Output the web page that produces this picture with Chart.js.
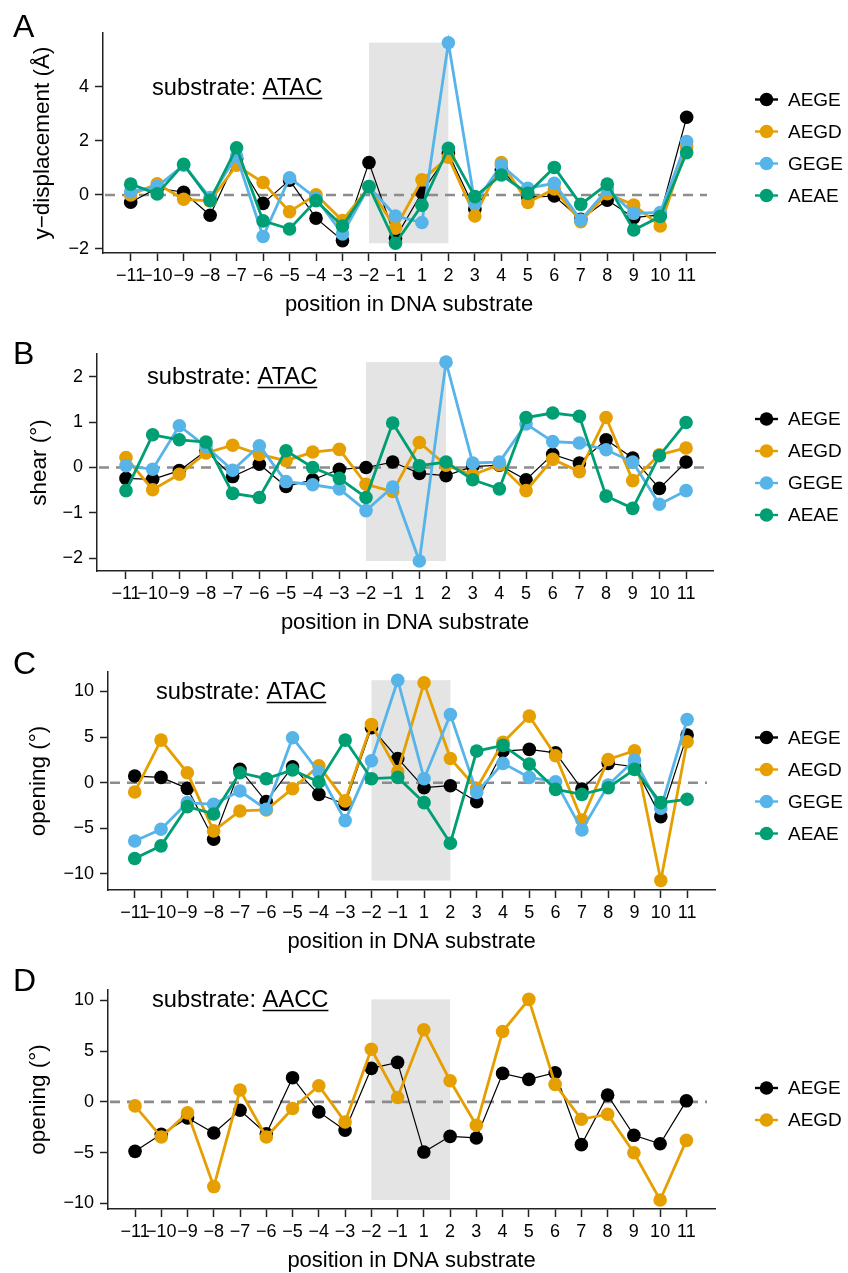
<!DOCTYPE html>
<html><head><meta charset="utf-8">
<script src="https://cdn.jsdelivr.net/npm/chart.js@4.4.1/dist/chart.umd.min.js"></script>
<style>
html,body{margin:0;padding:0;background:#fff;}
#wrap{position:relative;width:848px;height:1273px;overflow:hidden;background:#fff;}
canvas{position:absolute;left:0;}
</style></head><body>
<div id="wrap">
<canvas id="cA" width="848" height="320" style="top:0px"></canvas>
<canvas id="cB" width="848" height="320" style="top:320px"></canvas>
<canvas id="cC" width="848" height="320" style="top:640px"></canvas>
<canvas id="cD" width="848" height="314" style="top:960px"></canvas>
</div>
<script>
// ---------- DATA ----------
const positionLabels = ['\u221211','\u221210','\u22129','\u22128','\u22127','\u22126','\u22125','\u22124','\u22123','\u22122','\u22121','1','2','3','4','5','6','7','8','9','10','11'];
const seriesNames = ['AEGE','AEGD','GEGE','AEAE'];
const shadeFromLabel = '\u22122';
const shadeToLabel = '2';

// Panel A: y-displacement, substrate ATAC
const dispAEGE = [-0.27,0.25,0.1,-0.75,1.35,-0.31,0.55,-0.86,-1.69,1.2,-1.6,0.09,1.54,-0.53,0.93,-0.08,-0.04,-0.9,-0.19,-0.84,-0.74,2.88];
const dispAEGD = [0.0,0.41,-0.16,-0.22,1.1,0.46,-0.62,0.01,-0.95,0.3,-1.23,0.56,1.4,-0.78,1.2,-0.28,0.22,-0.99,0.05,-0.37,-1.15,1.79];
const dispGEGE = [0.12,0.31,1.1,-0.1,1.44,-1.54,0.64,-0.12,-1.44,0.31,-0.78,-1.02,5.64,-0.31,1.11,0.25,0.43,-0.93,0.21,-0.68,-0.65,1.98];
const dispAEAE = [0.4,0.04,1.14,-0.2,1.75,-0.96,-1.26,-0.21,-1.15,0.31,-1.79,-0.38,1.73,-0.06,0.74,0.06,1.02,-0.35,0.4,-1.3,-0.8,1.57];
const dispTicks = [-2,0,2,4];

// Panel B: shear, substrate ATAC
const shearAEGE = [-0.24,-0.26,-0.07,0.37,-0.2,0.07,-0.42,-0.27,-0.04,0.0,0.12,-0.13,-0.18,0.02,0.05,-0.27,0.29,0.1,0.61,0.21,-0.46,0.12];
const shearAEGD = [0.22,-0.49,-0.15,0.32,0.49,0.29,0.15,0.34,0.4,-0.37,-0.53,0.55,0.05,-0.16,0.06,-0.51,0.18,-0.09,1.1,-0.29,0.28,0.43];
const shearGEGE = [0.04,-0.04,0.92,0.46,-0.06,0.48,-0.31,-0.38,-0.47,-0.95,-0.43,-2.06,2.32,0.1,0.12,0.96,0.57,0.54,0.39,0.12,-0.81,-0.51];
const shearAEAE = [-0.51,0.72,0.61,0.56,-0.57,-0.66,0.37,0.0,-0.24,-0.66,0.98,0.04,0.12,-0.27,-0.47,1.1,1.2,1.13,-0.63,-0.9,0.26,0.99];
const shearTicks = [-2,-1,0,1,2];

// Panel C: opening, substrate ATAC
const openAtacAEGE = [0.73,0.58,-0.62,-6.2,1.46,-2.08,1.75,-1.28,-2.37,6.02,2.66,-0.55,-0.33,-2.08,3.47,3.65,3.28,-0.69,2.12,1.75,-3.72,5.22];
const openAtacAEGD = [-1.02,4.67,1.09,-5.29,-3.1,-2.99,-0.66,1.86,-2.0,6.39,1.2,10.95,2.66,-0.62,4.42,7.3,2.96,-4.09,2.55,3.5,-10.73,4.49];
const openAtacGEGE = [-6.39,-5.11,-2.19,-2.37,-0.91,-2.92,4.93,1.17,-4.16,2.41,11.24,0.44,7.48,-1.06,2.12,0.58,0.11,-5.18,-0.26,2.48,-2.81,6.93];
const openAtacAEAE = [-8.32,-6.93,-2.63,-3.43,1.09,0.44,1.39,0.07,4.67,0.44,0.58,-2.19,-6.64,3.47,4.09,2.04,-0.73,-1.28,-0.55,1.46,-2.19,-1.82];
const openTicks = [-10,-5,0,5,10];

// Panel D: opening, substrate AACC
const openAaccAEGE = [-4.88,-3.2,-1.58,-3.07,-0.83,-3.14,2.38,-0.99,-2.8,3.3,3.89,-4.95,-3.4,-3.56,2.8,2.21,2.87,-4.22,0.66,-3.3,-4.13,0.1];
const openAaccAEGD = [-0.4,-3.47,-1.09,-8.35,1.16,-3.47,-0.66,1.58,-1.98,5.18,0.43,7.1,2.08,-2.31,6.93,10.1,1.72,-1.72,-1.22,-5.02,-9.67,-3.8];

// ---------- STYLE ----------
const FONT = "'Liberation Sans', Arial, Helvetica, sans-serif";
const seriesColors = {AEGE:'#000000', AEGD:'#E69F00', GEGE:'#56B4E9', AEAE:'#009E73'};
const seriesWidths = {AEGE:1.2, AEGD:2.8, GEGE:2.8, AEAE:2.8};
const seriesOrder = {AEGE:4, AEGD:3, GEGE:2, AEAE:1};

function fmtNum(v){ return v < 0 ? '\u2212' + Math.abs(v) : String(v); }

const decor = {
  id: 'decor',
  beforeDatasetsDraw(chart, args, o) {
    const {ctx, chartArea: a, scales: {x, y}} = chart;
    const all = chart.data.datasets.flatMap(d => d.data.map(p => p.y));
    const yMax = Math.max(...all), yMin = Math.min(...all);
    const x1 = x.getPixelForValue(positionLabels.indexOf(shadeFromLabel));
    const x2 = x.getPixelForValue(positionLabels.indexOf(shadeToLabel));
    const y1 = y.getPixelForValue(yMax), y2 = y.getPixelForValue(yMin);
    ctx.save();
    ctx.fillStyle = '#e4e4e4';
    ctx.fillRect(x1, y1, x2 - x1, y2 - y1);
    const y0 = y.getPixelForValue(0);
    ctx.strokeStyle = '#8c8c8c';
    ctx.lineWidth = 2.6;
    ctx.setLineDash([10, 7]);
    ctx.beginPath();
    ctx.moveTo(a.left + 2, y0);
    ctx.lineTo(a.right - 8, y0);
    ctx.stroke();
    ctx.restore();
  },
  afterDraw(chart, args, o) {
    const {ctx, chartArea: a} = chart;
    ctx.save();
    // legend
    const ds = chart.data.datasets;
    const yc = (a.top + a.bottom) / 2 + 4.5;
    const gap = 32;
    ds.forEach((d, i) => {
      const yy = yc + (i - (ds.length - 1) / 2) * gap;
      ctx.strokeStyle = d.borderColor;
      ctx.lineWidth = 2.4;
      ctx.setLineDash([]);
      ctx.beginPath(); ctx.moveTo(755, yy); ctx.lineTo(778, yy); ctx.stroke();
      ctx.fillStyle = d.borderColor;
      ctx.beginPath(); ctx.arc(766.5, yy, 6.8, 0, Math.PI * 2); ctx.fill();
      ctx.fillStyle = '#000';
      ctx.font = '19px ' + FONT;
      ctx.textAlign = 'left';
      ctx.textBaseline = 'middle';
      ctx.fillText(d.label, 788, yy + 1);
    });
    // substrate label
    ctx.font = '23.7px ' + FONT;
    ctx.textAlign = 'left';
    ctx.textBaseline = 'alphabetic';
    ctx.fillStyle = '#000';
    const pre = 'substrate: ';
    ctx.fillText(pre, o.subX, o.subY);
    const w0 = ctx.measureText(pre).width;
    ctx.fillText(o.substrate, o.subX + w0, o.subY);
    const w1 = ctx.measureText(o.substrate).width;
    ctx.strokeStyle = '#000';
    ctx.lineWidth = 1.6;
    ctx.beginPath();
    ctx.moveTo(o.subX + w0, o.subY + 3.5);
    ctx.lineTo(o.subX + w0 + w1, o.subY + 3.5);
    ctx.stroke();
    // panel letter
    ctx.font = '32px ' + FONT;
    ctx.fillText(o.letter, 13, o.letterY);
    ctx.restore();
  }
};

function makePanel(id, p) {
  const datasets = p.series.map(([name, vals]) => ({
    label: name,
    data: vals.map((v, i) => ({x: i, y: v})),
    borderColor: seriesColors[name],
    backgroundColor: seriesColors[name],
    pointBackgroundColor: seriesColors[name],
    pointBorderWidth: 0,
    pointRadius: 6.8,
    pointHoverRadius: 6.8,
    borderWidth: seriesWidths[name],
    order: seriesOrder[name],
    tension: 0
  }));
  new Chart(document.getElementById(id), {
    type: 'line',
    data: {datasets},
    plugins: [decor],
    options: {
      responsive: false,
      animation: false,
      devicePixelRatio: 1,
      layout: {padding: {left: p.padL, right: p.padR, top: p.padT, bottom: p.padB}},
      plugins: {
        legend: {display: false},
        tooltip: {enabled: false},
        decor: {substrate: p.substrate, subX: p.subX, subY: p.subY, letter: p.letter, letterY: p.letterY}
      },
      scales: {
        x: {
          type: 'linear', min: p.xMin, max: p.xMax,
          afterBuildTicks: s => { s.ticks = positionLabels.map((_, i) => ({value: i})); },
          afterFit: s => { s.height = 65; },
          ticks: {callback: v => positionLabels[v], autoSkip: false, maxRotation: 0, minRotation: 0,
                  padding: 4, color: '#000', font: {size: 18, family: FONT}},
          grid: {display: true, drawOnChartArea: false, drawTicks: true, tickLength: 8, tickWidth: 1.5, tickColor: '#222'},
          border: {display: true, color: '#222', width: 1.5},
          title: {display: true, text: 'position in DNA substrate', color: '#000', padding: 0, font: {size: 22, family: FONT}}
        },
        y: {
          min: p.yMin, max: p.yMax,
          afterBuildTicks: s => { s.ticks = p.yTicks.map(v => ({value: v})); },
          afterFit: s => { s.width = p.yW; },
          ticks: {callback: v => fmtNum(v), padding: 6, color: '#000', font: {size: 18, family: FONT}},
          grid: {display: true, drawOnChartArea: false, drawTicks: true, tickLength: 8, tickWidth: 1.5, tickColor: '#222'},
          border: {display: true, color: '#222', width: 1.5},
          title: {display: true, text: p.yTitle, color: '#000', padding: 0, font: {size: 22.5, family: FONT}}
        }
      }
    }
  });
}

makePanel('cA', {
  series: [['AEGE', dispAEGE], ['AEGD', dispAEGD], ['GEGE', dispGEGE], ['AEAE', dispAEAE]],
  yTicks: dispTicks, yTitle: 'y\u2212displacement (\u00c5)', substrate: 'ATAC', letter: 'A',
  padL: 29, yW: 74, padR: 133, padT: 33, padB: 2,
  xMin: -1.046, xMax: 22.07, yMin: -2.15, yMax: 6.0,
  subX: 152, subY: 95, letterY: 37
});
makePanel('cB', {
  series: [['AEGE', shearAEGE], ['AEGD', shearAEGD], ['GEGE', shearGEGE], ['AEAE', shearAEAE]],
  yTicks: shearTicks, yTitle: 'shear (\u00b0)', substrate: 'ATAC', letter: 'B',
  padL: 26, yW: 71, padR: 135, padT: 34, padB: 4,
  xMin: -1.087, xMax: 22.01, yMin: -2.28, yMax: 2.5,
  subX: 147, subY: 64, letterY: 44
});
makePanel('cC', {
  series: [['AEGE', openAtacAEGE], ['AEGD', openAtacAEGD], ['GEGE', openAtacGEGE], ['AEAE', openAtacAEAE]],
  yTicks: openTicks, yTitle: 'opening (\u00b0)', substrate: 'ATAC', letter: 'C',
  padL: 25, yW: 83, padR: 133, padT: 32, padB: 5,
  xMin: -1.016, xMax: 22.06, yMin: -11.77, yMax: 12.14,
  subX: 156, subY: 59, letterY: 34
});
makePanel('cD', {
  series: [['AEGE', openAaccAEGE], ['AEGD', openAaccAEGD]],
  yTicks: openTicks, yTitle: 'opening (\u00b0)', substrate: 'AACC', letter: 'D',
  padL: 25, yW: 83, padR: 133, padT: 30, padB: 0,
  xMin: -1.03, xMax: 22.09, yMin: -10.56, yMax: 11.02,
  subX: 152, subY: 47, letterY: 31
});
</script>
</body></html>
